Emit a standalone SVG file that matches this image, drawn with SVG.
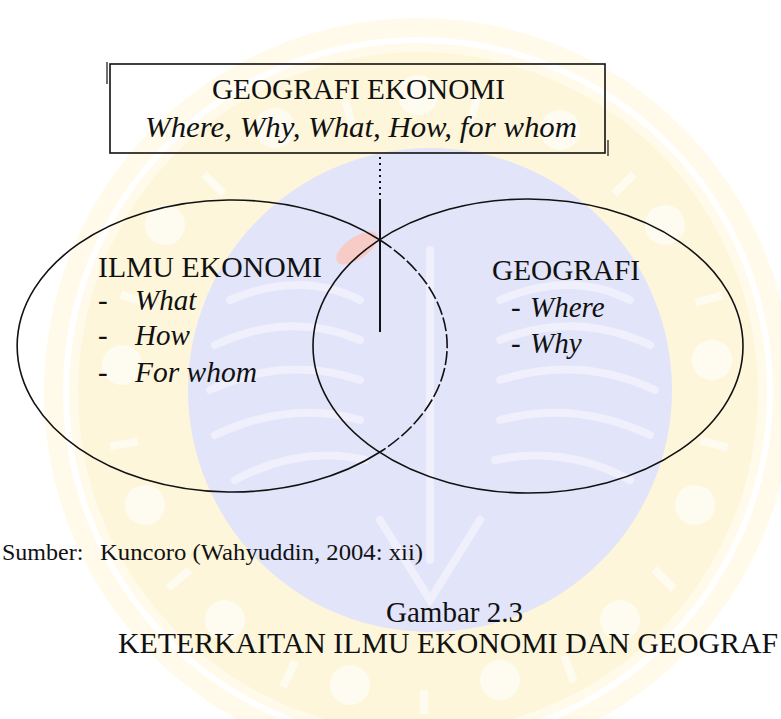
<svg xmlns="http://www.w3.org/2000/svg" width="781" height="719" viewBox="0 0 781 719">
<style>
.t{font-family:"Liberation Serif","Times New Roman",serif;fill:#111;font-size:29px}
.i{font-style:italic}
.s{font-size:24px}
.ln{fill:none;stroke:#111;stroke-width:1.6}
.wm{fill:#fff;opacity:0.6}
.ws{fill:none;stroke:#fff;stroke-width:8;stroke-linecap:round;opacity:0.45}
</style>
<rect width="781" height="719" fill="#fff"/>
<g id="watermark">
  <circle cx="418" cy="392" r="374" fill="#fffaea"/>
  <circle cx="418" cy="392" r="352" fill="none" stroke="#fff" stroke-width="6"/>
  <circle cx="418" cy="392" r="340" fill="#fef6da"/>
  <g class="wm">
    <circle cx="418" cy="95" r="20"/><circle cx="560" cy="130" r="20"/><circle cx="665" cy="225" r="20"/>
    <circle cx="712" cy="360" r="20"/><circle cx="695" cy="505" r="20"/><circle cx="620" cy="620" r="20"/>
    <circle cx="500" cy="680" r="20"/><circle cx="350" cy="685" r="20"/><circle cx="225" cy="620" r="20"/>
    <circle cx="145" cy="505" r="20"/><circle cx="122" cy="365" r="20"/><circle cx="165" cy="225" r="20"/>
    <circle cx="275" cy="128" r="20"/>
    <rect x="470" y="95" width="8" height="28" transform="rotate(15 474 109)"/>
    <rect x="620" y="170" width="8" height="28" transform="rotate(45 624 184)"/>
    <rect x="705" y="285" width="8" height="28" transform="rotate(75 709 299)"/>
    <rect x="710" y="430" width="8" height="28" transform="rotate(-75 714 444)"/>
    <rect x="660" y="565" width="8" height="28" transform="rotate(-45 664 579)"/>
    <rect x="565" y="655" width="8" height="28" transform="rotate(-20 569 669)"/>
    <rect x="420" y="690" width="8" height="24"/>
    <rect x="285" y="660" width="8" height="28" transform="rotate(25 289 674)"/>
    <rect x="175" y="565" width="8" height="28" transform="rotate(50 179 579)"/>
    <rect x="120" y="430" width="8" height="28" transform="rotate(80 124 444)"/>
    <rect x="130" y="285" width="8" height="28" transform="rotate(-70 134 299)"/>
    <rect x="210" y="170" width="8" height="28" transform="rotate(-45 214 184)"/>
    <rect x="345" y="100" width="8" height="28" transform="rotate(-15 349 114)"/>
  </g>
  <circle cx="430" cy="390" r="242" fill="#e2e4fa"/>
  <g>
    <path class="ws" d="M230 300 Q300 270 360 300"/>
    <path class="ws" d="M215 345 Q290 310 360 340"/>
    <path class="ws" d="M210 390 Q285 355 360 380"/>
    <path class="ws" d="M215 435 Q290 400 360 420"/>
    <path class="ws" d="M235 480 Q300 445 365 460"/>
    <path class="ws" d="M500 300 Q570 270 630 300"/>
    <path class="ws" d="M500 340 Q575 310 650 345"/>
    <path class="ws" d="M500 380 Q580 355 655 390"/>
    <path class="ws" d="M500 420 Q575 400 650 435"/>
    <path class="ws" d="M495 460 Q565 445 630 480"/>
    <path class="ws" d="M430 250 L430 560"/>
    <path class="ws" d="M380 520 L430 600 L480 520"/>
  </g>
  <ellipse cx="357" cy="248" rx="24" ry="11" transform="rotate(-35 357 248)" fill="#f8ccc6"/>
</g>
<g id="connectors">
  <line x1="380" y1="157" x2="380" y2="202" stroke="#111" stroke-width="2" stroke-dasharray="2 4"/>
  <line x1="380" y1="200" x2="380" y2="332" stroke="#111" stroke-width="2"/>
</g>
<g id="geografi-ekonomi">
  <rect x="110" y="64" width="495" height="89" class="ln"/>
  <line x1="107" y1="62" x2="107" y2="84" stroke="#111" stroke-width="1.2"/>
  <line x1="608" y1="140" x2="608" y2="156" stroke="#111" stroke-width="1.2"/>
  <text class="t" x="212" y="99" textLength="293" lengthAdjust="spacingAndGlyphs">GEOGRAFI EKONOMI</text>
  <text class="t i" x="145" y="137" textLength="432" lengthAdjust="spacingAndGlyphs">Where, Why, What, How,  for whom</text>
</g>
<g id="ilmu-ekonomi">
  <path class="ln" d="M380 240 A215 146 0 1 0 380 452"/>
  <path class="ln" d="M380 240 A215 146 0 0 1 380 452" stroke-width="1.3" stroke-dasharray="14 3"/>
  <text class="t" x="98" y="277" textLength="224" lengthAdjust="spacingAndGlyphs">ILMU EKONOMI</text>
  <text class="t" x="98" y="310">-</text>
  <text class="t i" x="135" y="310">What</text>
  <text class="t" x="98" y="345">-</text>
  <text class="t i" x="135" y="345">How</text>
  <text class="t" x="98" y="382">-</text>
  <text class="t i" x="135" y="382" textLength="122" lengthAdjust="spacingAndGlyphs">For whom</text>
</g>
<g id="geografi">
  <ellipse cx="528" cy="346" rx="215" ry="147" class="ln"/>
  <text class="t" x="492" y="280" textLength="148" lengthAdjust="spacingAndGlyphs">GEOGRAFI</text>
  <text class="t" x="511" y="317">-</text>
  <text class="t i" x="530" y="317">Where</text>
  <text class="t" x="511" y="353">-</text>
  <text class="t i" x="530" y="353">Why</text>
</g>
<g id="caption">
  <text class="t s" x="2" y="560">Sumber:</text>
  <text class="t s" x="100" y="560" textLength="323" lengthAdjust="spacingAndGlyphs">Kuncoro (Wahyuddin, 2004: xii)</text>
  <text class="t" x="386" y="622" textLength="137" lengthAdjust="spacingAndGlyphs">Gambar 2.3</text>
  <text class="t" x="118" y="653" textLength="660" lengthAdjust="spacingAndGlyphs">KETERKAITAN ILMU EKONOMI DAN GEOGRAF</text>
</g>
</svg>
